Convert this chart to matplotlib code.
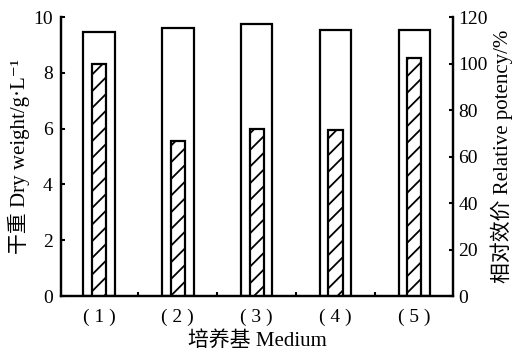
import numpy as np
import matplotlib.pyplot as plt

plt.rcParams['font.family'] = ['Liberation Serif', 'DejaVu Serif', 'Noto Sans CJK SC']
plt.rcParams['hatch.linewidth'] = 1.3

media = ["( 1 )", "( 2 )", "( 3 )", "( 4 )", "( 5 )"]
dry_weight = [9.45, 9.6, 9.75, 9.55, 9.55]
potency = [100, 66.5, 72, 71.5, 102.5]

x = np.arange(len(media))

fig = plt.figure(figsize=(5.13, 3.55), dpi=100)
ax = fig.add_axes([0.119, 0.166, 0.764, 0.786])
ax2 = ax.twinx()

ax.bar(x, dry_weight, width=0.4, facecolor="white", edgecolor="black", linewidth=1.6, zorder=1)
ax2.bar(x, potency, width=0.18, facecolor="white", edgecolor="black", linewidth=1.6,
        hatch="//", zorder=2)

ax.set_xlim(-0.48, 4.49)
ax.set_ylim(0, 10)
ax2.set_ylim(0, 120)
ax.set_yticks([0, 2, 4, 6, 8, 10])
ax2.set_yticks([0, 20, 40, 60, 80, 100, 120])
ax.set_xticks(x)
ax.set_xticklabels(media)
ax.set_xticks(x[:-1] + 0.5, minor=True)

for a in (ax, ax2):
    a.spines["top"].set_visible(False)
    for s in a.spines.values():
        s.set_linewidth(1.6)
ax.tick_params(axis="y", direction="in", length=3, width=1.5, labelsize=14, pad=6)
ax2.tick_params(axis="y", direction="in", length=3, width=1.5, labelsize=14, pad=4)
ax.tick_params(axis="x", which="major", length=0, labelsize=14, pad=9)
ax.tick_params(axis="x", which="minor", direction="in", length=3, width=1.5)

ax.set_xlabel("培养基 Medium", fontsize=15, labelpad=4)
ax.set_ylabel("干重 Dry weight/g·L⁻¹", fontsize=15, labelpad=2)
ax2.set_ylabel("相对效价 Relative potency/%", fontsize=15, labelpad=2)

plt.savefig("out.png", dpi=100)
